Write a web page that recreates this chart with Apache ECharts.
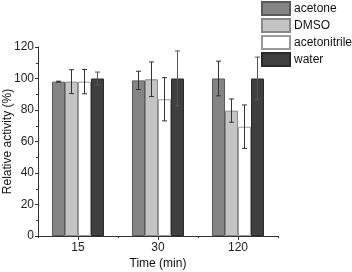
<!DOCTYPE html>
<html><head><meta charset="utf-8">
<script src="https://cdn.jsdelivr.net/npm/echarts@6/dist/echarts.min.js"></script>
<style>html,body{margin:0;padding:0;background:#fff}#c{width:352px;height:272px}</style>
</head><body><div id="c"></div>
<script>
var categories = ['15', '30', '120'];
var seriesNames = ['acetone', 'DMSO', 'acetonitrile', 'water'];
var acetone = [98, 98.8, 100];
var dmso = [98, 99.5, 79.6];
var acetonitrile = [98, 86.8, 69.4];
var water = [100, 100, 100];
var acetoneErr = [0.3, 5.8, 11];
var dmsoErr = [7.6, 11, 7.4];
var acetonitrileErr = [7.7, 13.7, 13.8];
var waterErr = [4.1, 17.5, 13.6];
var yTicks = [0, 20, 40, 60, 80, 100, 120];

var values = [acetone, dmso, acetonitrile, water];
var errs = [acetoneErr, dmsoErr, acetonitrileErr, waterErr];
var colors = ['#858585', '#c4c4c4', '#ffffff', '#3f3f3f'];
var borders = ['#5a5a5a', '#8a8a8a', '#9a9a9a', '#2a2a2a'];
var errColors = ['#333', '#333', '#333', '#555'];
var catGap = 0.35;
var font = 'Liberation Sans, Arial';

var chart = echarts.init(document.getElementById('c'));
var series = [];
seriesNames.forEach(function (n, i) {
  series.push({
    name: n, type: 'bar', data: values[i], barGap: '0%', barCategoryGap: (catGap * 100) + '%',
    itemStyle: { color: colors[i], borderColor: borders[i], borderWidth: 1 },
    xAxisIndex: 0, yAxisIndex: 0
  });
});
seriesNames.forEach(function (n, i) {
  series.push({
    type: 'custom', silent: true, z: 5,
    data: values[i].map(function (v, k) { return [k, v, errs[i][k]]; }),
    renderItem: function (params, api) {
      var k = api.value(0), v = api.value(1), e = api.value(2);
      var band = api.size([1, 0])[0];
      var bw = band * (1 - catGap) / 4;
      var c = api.coord([k, v]);
      var x = c[0] + (i - 1.5) * bw;
      var top = api.coord([k, v + e])[1];
      var bot = api.coord([k, v - e])[1];
      var cap = 2.5;
      var st = { stroke: errColors[i], lineWidth: 1 };
      return { type: 'group', children: [
        { type: 'line', shape: { x1: x, y1: top, x2: x, y2: bot }, style: st },
        { type: 'line', shape: { x1: x - cap, y1: top, x2: x + cap, y2: top }, style: st },
        { type: 'line', shape: { x1: x - cap, y1: bot, x2: x + cap, y2: bot }, style: st }
      ]};
    },
    encode: { x: 0, y: 1 }
  });
});

chart.setOption({
  animation: false,
  grid: { left: 38, right: 74, top: 47, bottom: 36, containLabel: false, outerBoundsMode: 'none' },
  legend: {
    data: seriesNames, orient: 'vertical', left: 261, top: 1, padding: 0,
    itemWidth: 28, itemHeight: 13, itemGap: 2,
    textStyle: { fontFamily: font, fontSize: 12, color: '#111', padding: [0, 0, 0, -1] },
    icon: 'rect'
  },
  xAxis: [{
    type: 'category', data: categories,
    name: 'Time (min)', nameLocation: 'middle', nameGap: 22, nameMoveOverlap: false,
    nameTextStyle: { fontFamily: font, fontSize: 12, color: '#111' },
    axisLine: { lineStyle: { color: '#333' } },
    axisTick: { show: true, length: 2, lineStyle: { color: '#333' } },
    axisLabel: { fontFamily: font, fontSize: 12, color: '#222', margin: 6 },
    splitLine: { show: false }
  }, {
    type: 'category', data: categories, position: 'bottom',
    axisLine: { show: false },
    axisTick: { show: true, alignWithLabel: true, length: 4, lineStyle: { color: '#333' } },
    axisLabel: { show: false }, splitLine: { show: false }
  }],
  yAxis: {
    type: 'value', min: 0, max: 120, interval: 20,
    name: 'Relative activity (%)', nameLocation: 'middle', nameGap: 30, nameRotate: 90,
    nameMoveOverlap: false,
    nameTextStyle: { fontFamily: font, fontSize: 12, color: '#111', verticalAlign: 'middle' },
    axisLine: { show: true, lineStyle: { color: '#333' } },
    axisTick: { show: true, length: 3, lineStyle: { color: '#333' } },
    minorTick: { show: true, splitNumber: 2, length: 2, lineStyle: { color: '#333' } },
    axisLabel: { fontFamily: font, fontSize: 12, color: '#222', margin: 4,
      formatter: function (v) { return yTicks.indexOf(v) >= 0 ? String(v) : ''; } },
    splitLine: { show: false }
  },
  series: series
});
</script></body></html>
